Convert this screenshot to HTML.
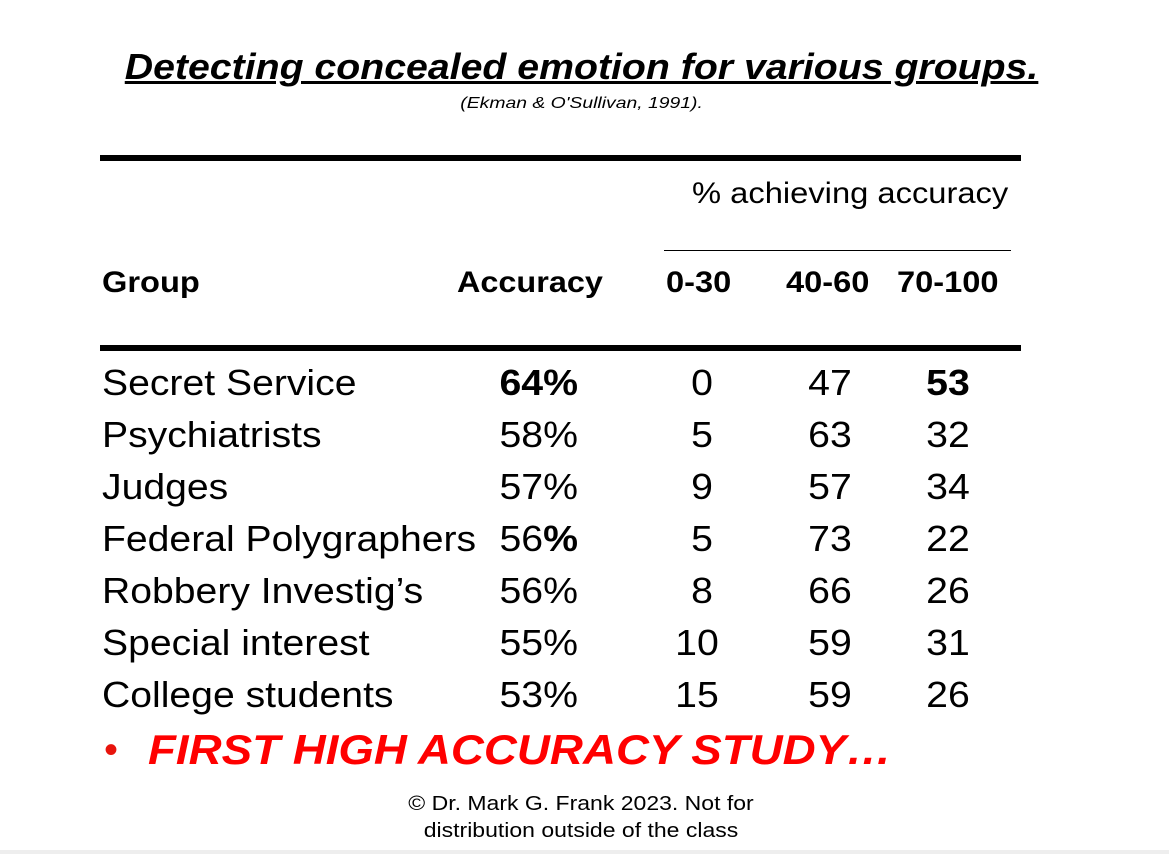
<!DOCTYPE html>
<html><head><meta charset="utf-8"><style>
body{margin:0;width:1169px;height:854px;background:#fff;position:relative;overflow:hidden;font-family:"Liberation Sans",Arial,sans-serif;color:#000}
.a{position:absolute;white-space:nowrap}
.line{position:absolute;background:#000}
.r{font-size:36px;line-height:40px}
.c{text-align:center;width:120px;transform:scaleX(1.09)}
.rt{text-align:right;width:150px;transform:scaleX(1.09);transform-origin:right center}
.g{transform:scaleX(1.087);transform-origin:left center}
</style></head><body>
<div class="a" style="left:0;width:1163px;text-align:center;top:46px;font-size:36px;font-weight:bold;font-style:italic;text-decoration:underline;text-decoration-thickness:3px;transform:scaleX(1.09);transform-origin:581px center">Detecting concealed emotion for various groups.</div>
<div class="a" style="left:0;width:1163px;text-align:center;top:95px;font-size:16px;font-style:italic;transform:scaleX(1.21);transform-origin:581px center">(Ekman &amp; O'Sullivan, 1991).</div>
<div class="line" style="left:100px;width:921px;top:155px;height:6px"></div>
<div class="a" style="left:692px;top:177px;font-size:30px;transform:scaleX(1.09);transform-origin:left center">% achieving accuracy</div>
<div class="line" style="left:664px;width:347px;top:250px;height:1px"></div>
<div class="a g" style="left:102px;top:266px;font-size:30px;font-weight:bold;">Group</div>
<div class="a g" style="left:457px;top:266px;font-size:30px;font-weight:bold;transform:scaleX(1.08)">Accuracy</div>
<div class="a g" style="left:666px;top:266px;font-size:30px;font-weight:bold;">0-30</div>
<div class="a g" style="left:786px;top:266px;font-size:30px;font-weight:bold;">40-60</div>
<div class="a g" style="left:897px;top:266px;font-size:30px;font-weight:bold;">70-100</div>
<div class="line" style="left:100px;width:921px;top:345px;height:6px"></div>

<div class="a r g" style="left:102px;top:363px">Secret Service</div>
<div class="a r rt" style="left:428px;top:363px;font-weight:bold">64%</div>
<div class="a r c" style="left:642px;top:363px">0</div>
<div class="a r c" style="left:770px;top:363px">47</div>
<div class="a r c" style="left:888px;top:363px;font-weight:bold">53</div>

<div class="a r g" style="left:102px;top:415px">Psychiatrists</div>
<div class="a r rt" style="left:428px;top:415px">58%</div>
<div class="a r c" style="left:642px;top:415px">5</div>
<div class="a r c" style="left:770px;top:415px">63</div>
<div class="a r c" style="left:888px;top:415px">32</div>

<div class="a r g" style="left:102px;top:467px">Judges</div>
<div class="a r rt" style="left:428px;top:467px">57%</div>
<div class="a r c" style="left:642px;top:467px">9</div>
<div class="a r c" style="left:770px;top:467px">57</div>
<div class="a r c" style="left:888px;top:467px">34</div>

<div class="a r g" style="left:102px;top:519px">Federal Polygraphers</div>
<div class="a r rt" style="left:428px;top:519px">56<b>%</b></div>
<div class="a r c" style="left:642px;top:519px">5</div>
<div class="a r c" style="left:770px;top:519px">73</div>
<div class="a r c" style="left:888px;top:519px">22</div>

<div class="a r g" style="left:102px;top:571px">Robbery Investig’s</div>
<div class="a r rt" style="left:428px;top:571px">56%</div>
<div class="a r c" style="left:642px;top:571px">8</div>
<div class="a r c" style="left:770px;top:571px">66</div>
<div class="a r c" style="left:888px;top:571px">26</div>

<div class="a r g" style="left:102px;top:623px">Special interest</div>
<div class="a r rt" style="left:428px;top:623px">55%</div>
<div class="a r c" style="left:637px;top:623px">10</div>
<div class="a r c" style="left:770px;top:623px">59</div>
<div class="a r c" style="left:888px;top:623px">31</div>

<div class="a r g" style="left:102px;top:675px">College students</div>
<div class="a r rt" style="left:428px;top:675px">53%</div>
<div class="a r c" style="left:637px;top:675px">15</div>
<div class="a r c" style="left:770px;top:675px">59</div>
<div class="a r c" style="left:888px;top:675px">26</div>

<div class="a" style="left:104px;top:728px;font-size:40px;color:#e8140c">•</div>
<div class="a" style="left:148px;top:726px;font-size:42px;font-weight:bold;font-style:italic;color:#ff0000;transform:scaleX(1.088);transform-origin:left center">FIRST HIGH ACCURACY STUDY…</div>
<div class="a" style="left:0;width:1162px;text-align:center;top:791px;font-size:20px;line-height:27px;transform:scaleX(1.15);transform-origin:581px center">© Dr. Mark G. Frank 2023. Not for<br>distribution outside of the class</div>
<div class="line" style="left:0;width:1169px;top:850px;height:4px;background:#eee"></div>
</body></html>
